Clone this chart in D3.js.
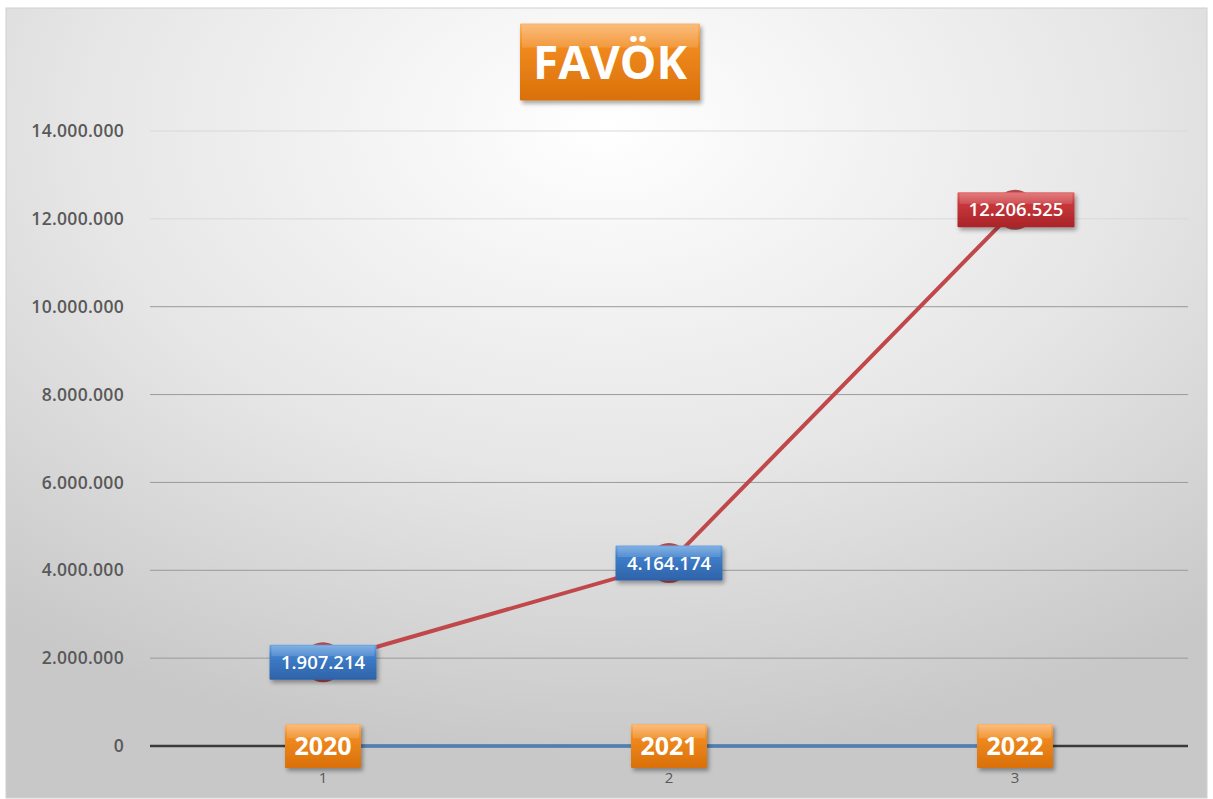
<!DOCTYPE html>
<html><head><meta charset="utf-8">
<script src="https://cdn.jsdelivr.net/npm/d3@7"></script>
<style>body{margin:0;background:#fff;}svg{display:block;}</style>
</head><body>
<svg id="c" width="1213" height="799"></svg>
<script>
const categories = ["1", "2", "3"];
const yearLabels = ["2020", "2021", "2022"];
const favokValues = [1907214, 4164174, 12206525];
const baseValues = [0, 0, 0];
const yTicks = [0, 2000000, 4000000, 6000000, 8000000, 10000000, 12000000, 14000000];
const title = "FAVÖK";

const svg = d3.select("#c");
const defs = svg.append("defs");
const bg = defs.append("radialGradient").attr("id","bg").attr("cx","0.5").attr("cy","0.15").attr("r","0.8")
  .attr("gradientUnits","objectBoundingBox");
bg.append("stop").attr("offset","0").attr("stop-color","#ffffff");
bg.append("stop").attr("offset","0.55").attr("stop-color","#e6e6e6");
bg.append("stop").attr("offset","1").attr("stop-color","#c8c8c8");

function boxGrad(id, c1, c2, c3){
  const g = defs.append("linearGradient").attr("id",id).attr("x1",0).attr("y1",0).attr("x2",0).attr("y2",1);
  g.append("stop").attr("offset","0").attr("stop-color",c1);
  g.append("stop").attr("offset","0.3").attr("stop-color",c2);
  g.append("stop").attr("offset","1").attr("stop-color",c3);
}
boxGrad("orange","#fbb36a","#f08a1e","#d9700a");
boxGrad("blue","#6fa6e0","#3f7fcb","#2e62a8");
boxGrad("red","#e0676a","#c9383c","#a82428");
const sh = defs.append("filter").attr("id","sh").attr("x","-20%").attr("y","-20%").attr("width","150%").attr("height","160%");
sh.append("feDropShadow").attr("dx",2).attr("dy",3).attr("stdDeviation",2).attr("flood-color","#000").attr("flood-opacity",0.35);

svg.append("rect").attr("x",6).attr("y",8).attr("width",1201).attr("height",790)
  .attr("fill","url(#bg)").attr("stroke","#d0d0d0");

const pLeft = 150, pRight = 1188, pTop = 131, pBottom = 746;
const x = d3.scaleBand().domain(categories).range([pLeft,pRight]);
const cx = d => x(d) + x.bandwidth()/2;
const y = d3.scaleLinear().domain([0,14000000]).range([pBottom, pTop]);
const fmt = v => d3.format(",")(v).replace(/,/g,".");
const font = "'Open Sans', 'Noto Sans', sans-serif";

// gridlines
svg.append("g").selectAll("line").data(yTicks.filter(t=>t>0)).join("line")
  .attr("x1",pLeft).attr("x2",pRight).attr("y1",d=>y(d)).attr("y2",d=>y(d))
  .attr("stroke",(d)=>d>=12000000?"#d8d8d8":"#9a9a9a").attr("stroke-width",1);

// y labels
svg.append("g").selectAll("text").data(yTicks).join("text")
  .attr("x",124).attr("y",d=>y(d)).attr("dy","0.35em").attr("text-anchor","end")
  .attr("font-family",font).attr("font-size",17.5).attr("font-weight",600).attr("fill","#595959")
  .attr("letter-spacing",0.3)
  .text(d=>fmt(d));

// axis line
svg.append("line").attr("x1",pLeft).attr("x2",pRight).attr("y1",y(0)).attr("y2",y(0))
  .attr("stroke","#3a3a3a").attr("stroke-width",2.5);

// base series (blue)
svg.append("path").datum(baseValues)
  .attr("d", d3.line().x((d,i)=>cx(categories[i])).y(d=>y(d)))
  .attr("fill","none").attr("stroke","#4f7fb5").attr("stroke-width",3.5);

// x tick labels
svg.append("g").selectAll("text").data(categories).join("text")
  .attr("x",d=>cx(d)).attr("y",783).attr("text-anchor","middle")
  .attr("font-family",font).attr("font-size",15).attr("fill","#595959").text(d=>d);

// red line
svg.append("path").datum(favokValues)
  .attr("d", d3.line().x((d,i)=>cx(categories[i])).y(d=>y(d)))
  .attr("fill","none").attr("stroke","#c0484b").attr("stroke-width",4);
svg.append("g").selectAll("circle").data(favokValues).join("circle")
  .attr("cx",(d,i)=>cx(categories[i])).attr("cy",d=>y(d)).attr("r",20)
  .attr("fill","#a8383c").attr("fill-opacity",0.9);

function label(cxp, cyp, w, h, text, grad, fs, fw){
  const g = svg.append("g");
  g.append("rect").attr("x",cxp-w/2).attr("y",cyp-h/2).attr("width",w).attr("height",h)
    .attr("fill",`url(#${grad})`).attr("filter","url(#sh)").attr("rx",1);
  g.append("rect").attr("x",cxp-w/2+2).attr("y",cyp-h/2+1).attr("width",w-4).attr("height",h*0.3)
    .attr("fill","#fff").attr("fill-opacity",0.15);
  g.append("text").attr("x",cxp).attr("y",cyp).attr("dy","0.36em").attr("text-anchor","middle")
    .attr("font-family",font).attr("font-weight",fw).attr("font-size",fs).attr("fill","#fff").text(text);
}
favokValues.forEach((v,i)=>{
  const isLast = i===favokValues.length-1;
  label(cx(categories[i]) + (isLast?1:0), y(v), isLast?117:107, 35, fmt(v), isLast?"red":"blue", 18.5, 600);
});
baseValues.forEach((v,i)=>{
  label(cx(categories[i]), y(v), 76, 44, yearLabels[i], "orange", 25, 700);
});

// title
label(610, 62, 180, 77, title, "orange", 46, 700);
</script>
</body></html>
